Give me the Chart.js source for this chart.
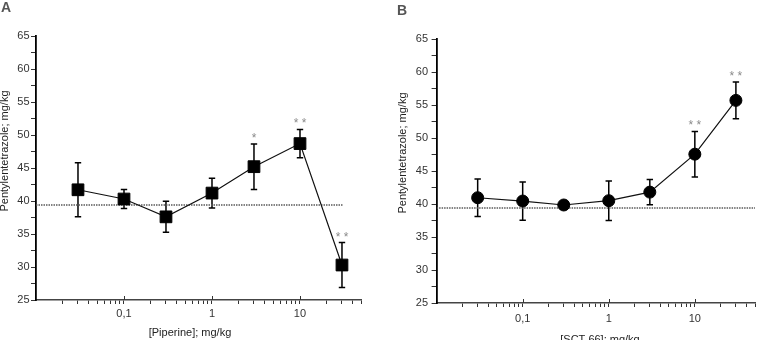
<!DOCTYPE html>
<html>
<head>
<meta charset="utf-8">
<script src="https://cdn.jsdelivr.net/npm/chart.js@4/dist/chart.umd.min.js"></script>
<style>
  html, body { margin: 0; padding: 0; background: #fff; width: 762px; height: 340px; overflow: hidden; }
  canvas { position: absolute; top: 0; }
  #panelA { left: 0; }
  #panelB { left: 381px; }
</style>
</head>
<body>
<canvas id="panelA" width="381" height="340"></canvas>
<canvas id="panelB" width="381" height="340"></canvas>
<script>
// Doses tested (mg/kg, log-spaced)
const doses = [0.03, 0.1, 0.3, 1, 3, 10, 30];

// Piperine: PTZ seizure threshold, mean and SEM, significance marks
const piperineMean = [41.7, 40.3, 37.6, 41.2, 45.2, 48.7, 30.3];
const piperineSem  = [4.1, 1.45, 2.35, 2.25, 3.45, 2.15, 3.4];
const piperineSig  = ['', '', '', '', '*', '* *', '* *'];

// SCT-66: PTZ seizure threshold, mean and SEM, significance marks
const sctMean = [40.95, 40.45, 39.85, 40.5, 41.8, 47.55, 55.7];
const sctSem  = [2.85, 2.9, 0.6, 3.0, 1.9, 3.45, 2.8];
const sctSig  = ['', '', '', '', '', '* *', '* *'];

// Vehicle control threshold (horizontal reference line) and its dose span
const controlLevel = 39.4;
const controlSpanA = [0.01, 31];
const controlSpanB = [0.01, 50];

// Axis ticks
const xTickValues = [0.02, 0.03, 0.04, 0.05, 0.06, 0.07, 0.08, 0.09,
                     0.1, 0.2, 0.3, 0.4, 0.5, 0.6, 0.7, 0.8, 0.9,
                     1, 2, 3, 4, 5, 6, 7, 8, 9,
                     10, 20, 30, 40, 50];
const xTickLabels = { 0.1: '0,1', 1: '1', 10: '10' };
const yMin = 25, yMax = 65, yStep = 2.5, yLabelStep = 5;

const FAMILY = "'Liberation Sans', Arial, Helvetica, sans-serif";
Chart.defaults.font.family = FAMILY;

// Vertical SEM bars plus significance asterisks above them
const errorBars = {
  id: 'errorBars',
  beforeDatasetsDraw(chart, args, o) {
    const { ctx, scales: { x, y } } = chart;
    chart.data.datasets.forEach(ds => {
      if (!ds.sem) return;
      ctx.save();
      ctx.strokeStyle = '#000';
      ctx.lineWidth = o.width;
      ds.data.forEach((pt, i) => {
        const px = x.getPixelForValue(pt.x);
        const top = y.getPixelForValue(pt.y + ds.sem[i]);
        const bot = y.getPixelForValue(pt.y - ds.sem[i]);
        ctx.beginPath();
        ctx.moveTo(px, top); ctx.lineTo(px, bot);
        ctx.moveTo(px - o.cap, top); ctx.lineTo(px + o.cap, top);
        ctx.moveTo(px - o.cap, bot); ctx.lineTo(px + o.cap, bot);
        ctx.stroke();
      });
      ctx.restore();
    });
  },
  afterDatasetsDraw(chart, args, o) {
    const { ctx, scales: { x, y } } = chart;
    chart.data.datasets.forEach(ds => {
      if (!ds.sig) return;
      ctx.save();
      ctx.fillStyle = '#8a8a8a';
      ctx.font = '12px ' + FAMILY;
      ctx.textAlign = 'center';
      ctx.textBaseline = 'alphabetic';
      ds.data.forEach((pt, i) => {
        if (!ds.sig[i]) return;
        const px = x.getPixelForValue(pt.x);
        const top = y.getPixelForValue(pt.y + ds.sem[i]);
        ctx.fillText(ds.sig[i], px, top - 2);
      });
      ctx.restore();
    });
  }
};

// Decade ticks on the dose axis also rise above the axis line
const majorTicks = {
  id: 'majorTicks',
  afterDraw(chart) {
    const { ctx, scales: { x }, chartArea } = chart;
    ctx.save();
    ctx.strokeStyle = '#333';
    ctx.lineWidth = 1;
    Object.keys(xTickLabels).forEach(k => {
      const px = Math.round(x.getPixelForValue(Number(k))) + 0.5;
      ctx.beginPath();
      ctx.moveTo(px, chartArea.bottom);
      ctx.lineTo(px, chartArea.bottom - 4);
      ctx.stroke();
    });
    ctx.restore();
  }
};

// Axis captions
const captions = {
  id: 'captions',
  afterDraw(chart, args, o) {
    const ctx = chart.ctx;
    ctx.save();
    ctx.fillStyle = '#222';
    ctx.font = '11px ' + FAMILY;
    ctx.textAlign = 'center';
    ctx.textBaseline = 'middle';
    ctx.fillText(o.xText, o.xAt[0], o.xAt[1]);
    ctx.translate(o.yAt[0], o.yAt[1]);
    ctx.rotate(-Math.PI / 2);
    ctx.fillText(o.yText, 0, 0);
    ctx.restore();
  }
};

function panelConfig(p) {
  return {
    type: 'line',
    data: {
      datasets: [
        {
          label: 'control',
          data: p.controlSpan.map(x => ({ x, y: controlLevel })),
          borderColor: '#5a5a5a',
          borderWidth: 1.4,
          borderDash: [1.5, 1],
          pointRadius: 0,
          order: 2
        },
        {
          label: p.name,
          data: doses.map((x, i) => ({ x, y: p.mean[i] })),
          sem: p.sem,
          sig: p.sig,
          borderColor: '#111',
          borderWidth: 1.2,
          tension: 0,
          pointStyle: p.marker,
          pointRadius: p.radius,
          pointBackgroundColor: '#000',
          pointBorderColor: '#000',
          pointBorderWidth: 1,
          order: 1
        }
      ]
    },
    options: {
      responsive: false,
      animation: false,
      devicePixelRatio: 1,
      layout: { padding: p.padding },
      plugins: {
        legend: { display: false },
        tooltip: { enabled: false },
        title: {
          display: true,
          text: p.letter,
          align: 'start',
          color: '#555',
          font: { size: 14, weight: 'bold', lineHeight: 1.2 },
          padding: p.titlePad
        },
        errorBars: { width: 1.5, cap: 3.2 },
        captions: { xText: p.xTitle, xAt: p.xTitleAt, yText: 'Pentylentetrazole; mg/kg', yAt: p.yTitleAt }
      },
      scales: {
        x: {
          type: 'logarithmic',
          min: 0.01,
          max: 50,
          afterBuildTicks: s => { s.ticks = xTickValues.map(v => ({ value: v })); },
          afterFit: s => { s.height = p.xAxisHeight; },
          ticks: {
            autoSkip: false,
            maxRotation: 0,
            minRotation: 0,
            padding: p.xTickPad,
            color: '#333',
            font: { size: 11 },
            callback: v => xTickLabels[v] ?? ''
          },
          grid: { drawOnChartArea: false, drawTicks: true, tickLength: 4, tickColor: '#333' },
          border: { color: '#444', width: 1.5 }
        },
        y: {
          min: yMin,
          max: yMax,
          afterFit: s => { s.width = p.yAxisWidth; },
          ticks: {
            stepSize: yStep,
            autoSkip: false,
            padding: p.yTickPad,
            color: '#333',
            font: { size: 11 },
            callback: v => (v % yLabelStep === 0 ? v : '')
          },
          grid: { drawOnChartArea: false, drawTicks: true, tickLength: 5, tickColor: '#333' },
          border: { color: '#000', width: 1.8 }
        }
      }
    },
    plugins: [errorBars, majorTicks, captions]
  };
}

new Chart(document.getElementById('panelA'), panelConfig({
  letter: 'A',
  name: 'Piperine',
  mean: piperineMean, sem: piperineSem, sig: piperineSig,
  controlSpan: controlSpanA,
  marker: 'rect', radius: 8.3,
  padding: { left: 1, top: 0, right: 19.5, bottom: 0 },
  titlePad: { top: 0, bottom: 19.2 },
  yAxisWidth: 35, yTickPad: 1.5,
  xAxisHeight: 40, xTickPad: 3,
  xTitle: '[Piperine]; mg/kg', xTitleAt: [190, 333],
  yTitleAt: [4.5, 151]
}));

new Chart(document.getElementById('panelB'), panelConfig({
  letter: 'B',
  name: 'SCT-66',
  mean: sctMean, sem: sctSem, sig: sctSig,
  controlSpan: controlSpanB,
  marker: 'circle', radius: 6,
  padding: { left: 16, top: 0, right: 0.6, bottom: 0 },
  titlePad: { top: 3, bottom: 19.2 },
  yAxisWidth: 39.6, yTickPad: 3.5,
  xAxisHeight: 37, xTickPad: 5,
  xTitle: '[SCT-66]; mg/kg', xTitleAt: [219, 339.5],
  yTitleAt: [22, 153]
}));
</script>
</body>
</html>
